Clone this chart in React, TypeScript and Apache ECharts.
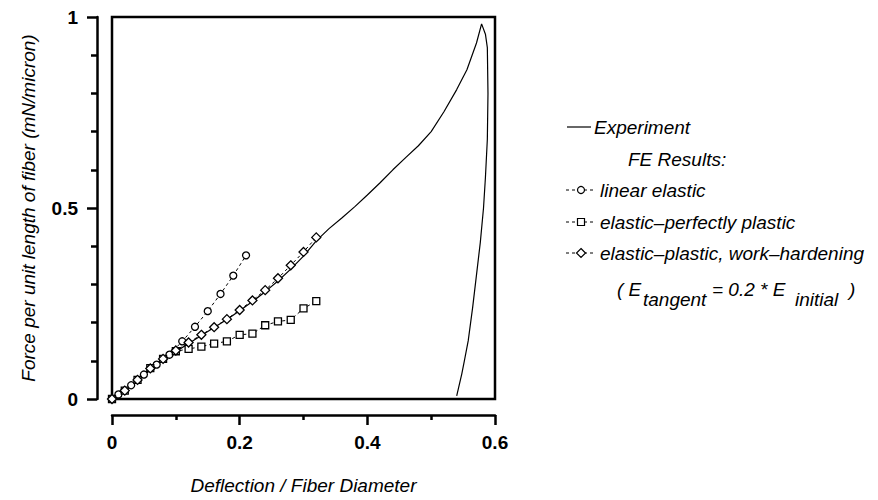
import React, { useEffect, useRef } from "react";
import * as echarts from "echarts";

const FONT = '"Liberation Sans", Arial, Helvetica, sans-serif';

// Experiment (solid line)
const expX = [0, 0.02, 0.04, 0.06, 0.08, 0.1, 0.12, 0.14, 0.16, 0.18, 0.2, 0.22, 0.24, 0.26, 0.28, 0.3, 0.32, 0.34, 0.36, 0.38, 0.4, 0.42, 0.44, 0.46, 0.48, 0.5, 0.52, 0.54, 0.556, 0.571, 0.579, 0.585, 0.588, 0.589, 0.588, 0.585, 0.582, 0.577, 0.571, 0.565, 0.558, 0.552, 0.548, 0.543, 0.54];
const expY = [0, 0.022, 0.048, 0.076, 0.101, 0.124, 0.145, 0.166, 0.187, 0.208, 0.231, 0.255, 0.281, 0.309, 0.34, 0.374, 0.414, 0.446, 0.474, 0.503, 0.534, 0.566, 0.6, 0.632, 0.663, 0.7, 0.752, 0.81, 0.862, 0.932, 0.982, 0.955, 0.92, 0.8, 0.68, 0.58, 0.5, 0.41, 0.325, 0.24, 0.152, 0.1, 0.066, 0.03, 0.008];

// FE: linear elastic (circles)
const linX = [0, 0.01, 0.03, 0.05, 0.07, 0.09, 0.11, 0.13, 0.15, 0.17, 0.19, 0.21];
const linY = [0, 0.012, 0.036, 0.064, 0.09, 0.116, 0.151, 0.189, 0.23, 0.275, 0.323, 0.376];

// FE: elastic-perfectly plastic (squares) and work-hardening (diamonds)
const feX = [0, 0.02, 0.04, 0.06, 0.08, 0.1, 0.12, 0.14, 0.16, 0.18, 0.2, 0.22, 0.24, 0.26, 0.28, 0.3, 0.32];
const perfY = [0, 0.022, 0.05, 0.081, 0.105, 0.125, 0.131, 0.137, 0.145, 0.151, 0.168, 0.171, 0.193, 0.203, 0.207, 0.237, 0.256];
const hardY = [0, 0.022, 0.05, 0.08, 0.105, 0.127, 0.148, 0.168, 0.188, 0.209, 0.233, 0.258, 0.285, 0.316, 0.35, 0.385, 0.423];

const xTicks = [0, 0.2, 0.4, 0.6];
const yTickLabels: Record<string, string> = { "0": "0", "0.5": "0.5", "1": "1" };

const seriesNames = ["Experiment", "linear elastic", "elastic\u2013perfectly plastic", "elastic\u2013plastic, work\u2013hardening"];

const zip = (xs: number[], ys: number[]) => xs.map((x, i) => [x, ys[i]]);

export default function App() {
  const ref = useRef<HTMLDivElement>(null);
  useEffect(() => {
    const chart = echarts.init(ref.current!, null, { renderer: "svg" });
    const it = (s: number) => ({ fontStyle: "italic", fontSize: s, fontFamily: FONT, fill: "#000" });
    const feStyle = {
      type: "line",
      lineStyle: { color: "#000", width: 1, type: [3, 3] },
      itemStyle: { color: "#fff", borderColor: "#000", borderWidth: 1.3 },
      showSymbol: true,
      z: 3,
    };
    const rowY = [127, 159, 190, 222, 253, 289];
    const sample = (y: number) => ({
      type: "line",
      shape: { x1: 566, y1: y, x2: 596, y2: y },
      style: { stroke: "#000", lineWidth: 1, lineDash: [3, 3] },
    });
    const mk = { fill: "#fff", stroke: "#000", lineWidth: 1.2 };
    const graphic: any[] = [
      { type: "line", shape: { x1: 567, y1: rowY[0], x2: 591, y2: rowY[0] }, style: { stroke: "#000", lineWidth: 1.2 } },
      { type: "text", x: 594, y: rowY[0], style: { ...it(19), text: seriesNames[0], verticalAlign: "middle" } },
      { type: "text", x: 628, y: rowY[1], style: { ...it(19), text: "FE Results:", verticalAlign: "middle" } },
      sample(rowY[2]),
      { type: "circle", shape: { cx: 581, cy: rowY[2], r: 3.5 }, style: mk },
      { type: "text", x: 600, y: rowY[2], style: { ...it(19), text: seriesNames[1], verticalAlign: "middle" } },
      sample(rowY[3]),
      { type: "rect", shape: { x: 577.5, y: rowY[3] - 3.5, width: 7, height: 7 }, style: mk },
      { type: "text", x: 600, y: rowY[3], style: { ...it(19), text: seriesNames[2], verticalAlign: "middle" } },
      sample(rowY[4]),
      { type: "polygon", shape: { points: [[581, rowY[4] - 4.5], [585.5, rowY[4]], [581, rowY[4] + 4.5], [576.5, rowY[4]]] }, style: mk },
      { type: "text", x: 600, y: rowY[4], style: { ...it(19), text: seriesNames[3], verticalAlign: "middle" } },
      { type: "text", x: 617, y: rowY[5], style: { ...it(19), text: "( E", verticalAlign: "middle" } },
      { type: "text", x: 643, y: rowY[5] + 10, style: { ...it(19), text: "tangent", verticalAlign: "middle" } },
      { type: "text", x: 712, y: rowY[5], style: { ...it(19), text: "= 0.2 * E", verticalAlign: "middle" } },
      { type: "text", x: 795, y: rowY[5] + 10, style: { ...it(19), text: "initial", verticalAlign: "middle" } },
      { type: "text", x: 849, y: rowY[5], style: { ...it(19), text: ")", verticalAlign: "middle" } },
    ];

    chart.setOption({
      animation: false,
      backgroundColor: "#fff",
      grid: { left: 112, top: 17, width: 383, height: 385, show: true, borderColor: "#000", borderWidth: 2.5, backgroundColor: "transparent" },
      xAxis: {
        type: "value",
        min: 0,
        max: 0.6,
        interval: 0.2,
        position: "bottom",
        offset: 16,
        axisLine: { show: true, onZero: false, lineStyle: { color: "#000", width: 2.5 } },
        axisTick: { show: true, length: 10, lineStyle: { color: "#000", width: 2.5 } },
        minorTick: { show: true, splitNumber: 2, length: 5, lineStyle: { color: "#000", width: 2.5 } },
        splitLine: { show: false },
        minorSplitLine: { show: false },
        axisLabel: {
          color: "#000",
          fontWeight: "bold",
          fontSize: 19,
          fontFamily: FONT,
          margin: 18,
          formatter: (v: number) => {
            const t = xTicks.find((k) => Math.abs(k - v) < 1e-6);
            return t === undefined ? "" : String(t);
          },
        },
        name: "Deflection / Fiber Diameter",
        nameLocation: "middle",
        nameGap: 61,
        nameTextStyle: { color: "#000", fontStyle: "italic", fontSize: 19, fontFamily: FONT },
      },
      yAxis: {
        type: "value",
        min: 0,
        max: 1,
        interval: 0.5,
        position: "left",
        offset: 15,
        axisLine: { show: true, onZero: false, lineStyle: { color: "#000", width: 2.5 } },
        axisTick: { show: true, length: 10, lineStyle: { color: "#000", width: 2.5 } },
        minorTick: { show: true, splitNumber: 5, length: 6, lineStyle: { color: "#000", width: 2.5 } },
        splitLine: { show: false },
        minorSplitLine: { show: false },
        axisLabel: {
          color: "#000",
          fontWeight: "bold",
          fontSize: 19,
          fontFamily: FONT,
          margin: 19,
          formatter: (v: number) => yTickLabels[String(Math.round(v * 10) / 10)] ?? "",
        },
        name: "Force per unit length of fiber (mN/micron)",
        nameLocation: "middle",
        nameGap: 59,
        nameTextStyle: { color: "#000", fontStyle: "italic", fontSize: 19, fontFamily: FONT },
      },
      series: [
        {
          name: seriesNames[0],
          type: "line",
          data: zip(expX, expY),
          showSymbol: false,
          symbol: "none",
          lineStyle: { color: "#000", width: 1.2 },
          z: 2,
        },
        { ...feStyle, name: seriesNames[1], data: zip(linX, linY), symbol: "circle", symbolSize: 7 },
        { ...feStyle, name: seriesNames[2], data: zip(feX, perfY), symbol: "rect", symbolSize: 7 },
        { ...feStyle, name: seriesNames[3], data: zip(feX, hardY), symbol: "diamond", symbolSize: 9 },
      ],
      graphic,
    });
    return () => chart.dispose();
  }, []);
  return <div ref={ref} style={{ position: "fixed", left: 0, top: 0, width: 878, height: 500, background: "#fff" }} />;
}
